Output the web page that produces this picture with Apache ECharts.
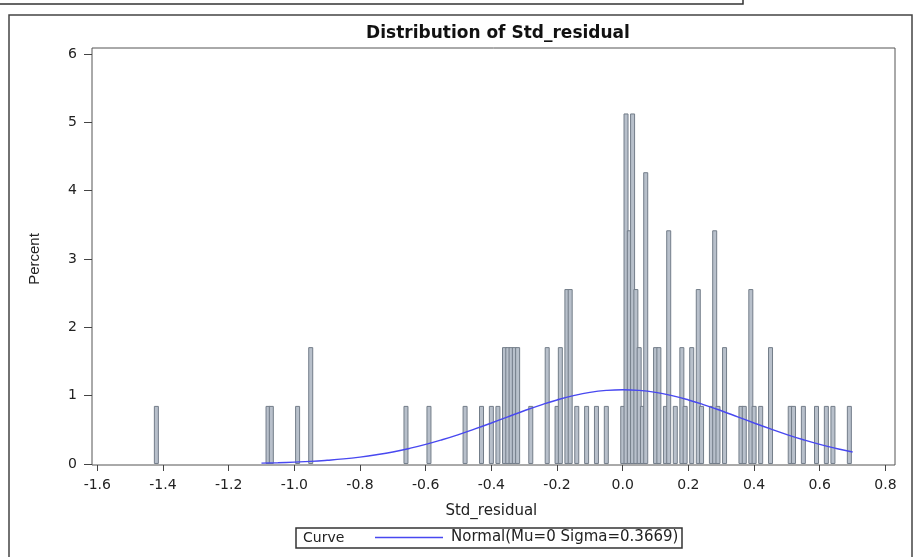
<!DOCTYPE html>
<html>
<head>
<meta charset="utf-8">
<script src="https://cdn.jsdelivr.net/npm/echarts@6/dist/echarts.min.js"></script>
<style>html,body{margin:0;padding:0;background:#fff;}#c{width:922px;height:557px;}</style>
</head>
<body>
<div id="c"></div>
<script>
// Histogram bins (Std_residual midpoints) and percent heights
const binCenters = [-1.42, -1.08, -1.07, -0.99, -0.95,
  -0.66, -0.59, -0.48, -0.43, -0.40, -0.38,
  -0.36, -0.35, -0.34, -0.33, -0.32, -0.28, -0.23, -0.20, -0.19, -0.17, -0.16,
  -0.14, -0.11, -0.08, -0.05, 0.00, 0.01, 0.02, 0.03, 0.04, 0.05, 0.06, 0.07,
  0.10, 0.11, 0.13, 0.14, 0.16, 0.18, 0.19, 0.21, 0.23, 0.24, 0.27, 0.28, 0.29, 0.31,
  0.36, 0.37, 0.39, 0.40, 0.42, 0.45, 0.51, 0.52, 0.55, 0.59, 0.62, 0.64, 0.69];
const binPercents = [0.85, 0.85, 0.85, 0.85, 1.71,
  0.85, 0.85, 0.85, 0.85, 0.85, 0.85,
  1.71, 1.71, 1.71, 1.71, 1.71, 0.85, 1.71, 0.85, 1.71, 2.56, 2.56,
  0.85, 0.85, 0.85, 0.85, 0.85, 5.13, 3.42, 5.13, 2.56, 1.71, 0.85, 4.27,
  1.71, 1.71, 0.85, 3.42, 0.85, 1.71, 0.85, 1.71, 2.56, 0.85, 0.85, 3.42, 0.85, 1.71,
  0.85, 0.85, 2.56, 0.85, 0.85, 1.71, 0.85, 0.85, 0.85, 0.85, 0.85, 0.85, 0.85];

// Normal curve points
const curveX = [-1.10, -1.05, -1.00, -0.95, -0.90, -0.85, -0.80, -0.75, -0.70, -0.65, -0.60,
  -0.55, -0.50, -0.45, -0.40, -0.35, -0.30, -0.25, -0.20, -0.15, -0.10, -0.05, 0.00,
  0.05, 0.10, 0.15, 0.20, 0.25, 0.30, 0.35, 0.40, 0.45, 0.50, 0.55, 0.60, 0.65, 0.70];
const curveY = [0.012, 0.018, 0.027, 0.038, 0.054, 0.074, 0.101, 0.135, 0.176, 0.227, 0.286,
  0.354, 0.430, 0.513, 0.600, 0.690, 0.779, 0.862, 0.937, 1.000, 1.048, 1.077, 1.087,
  1.077, 1.048, 1.000, 0.937, 0.862, 0.779, 0.690, 0.600, 0.513, 0.430, 0.354, 0.286, 0.227, 0.176];

const xTickMin = -1.6, xTickMax = 0.8, xTickStep = 0.2;
const yTickMin = 0, yTickMax = 6, yTickStep = 1;

const titleText = 'Distribution of Std_residual';
const xName = 'Std_residual';
const yName = 'Percent';
const legendLabel = 'Curve';
const curveName = 'Normal(Mu=0 Sigma=0.3669)';

const WIDE = '"DejaVu Sans", Verdana, sans-serif';
const ARIAL = '"Liberation Sans", Arial, sans-serif';
const BLUE = '#4848f0';
const chart = echarts.init(document.getElementById('c'), null, {renderer: 'canvas'});

const barData = binCenters.map((x, i) => [x, binPercents[i]]);
const lineData = curveX.map((x, i) => [x, curveY[i]]);

chart.setOption({
  animation: false,
  backgroundColor: '#ffffff',
  title: {
    text: titleText, left: 493, top: 20, textAlign: 'center',
    textStyle: {fontFamily: WIDE, fontSize: 17, fontWeight: 'bold', color: '#111'}
  },
  grid: [
    {left: 92, right: 27, top: 48, bottom: 92, show: true, borderColor: '#555', borderWidth: 1, backgroundColor: 'transparent'},
    {left: 97.3, right: 36.6, top: 54, bottom: 93}
  ],
  xAxis: [
    {type: 'value', gridIndex: 0, min: -1.616, max: 0.829,
     axisLine: {show: false, onZero: false}, axisTick: {show: false}, axisLabel: {show: false}, splitLine: {show: false}},
    {type: 'value', gridIndex: 1, min: xTickMin, max: xTickMax, interval: xTickStep, offset: 1, position: 'bottom',
     axisLine: {show: false, onZero: false}, axisTick: {show: true, length: 6, lineStyle: {color: '#444'}},
     axisLabel: {margin: 13, fontFamily: WIDE, fontSize: 14, color: '#222', formatter: v => v.toFixed(1)},
     splitLine: {show: false},
     name: xName, nameLocation: 'middle', nameGap: 39,
     nameTextStyle: {fontFamily: WIDE, fontSize: 15, color: '#222'}}
  ],
  yAxis: [
    {type: 'value', gridIndex: 0, min: -0.015, max: 6.088,
     axisLine: {show: false, onZero: false}, axisTick: {show: false}, axisLabel: {show: false}, splitLine: {show: false}},
    {type: 'value', gridIndex: 1, min: yTickMin, max: yTickMax, interval: yTickStep, offset: 5.3, position: 'left',
     axisLine: {show: false, onZero: false}, axisTick: {show: true, length: 8, lineStyle: {color: '#444'}},
     axisLabel: {margin: 15, fontFamily: WIDE, fontSize: 14, color: '#222'},
     splitLine: {show: false},
     name: yName, nameLocation: 'middle', nameGap: 50, nameRotate: 90,
     nameTextStyle: {fontFamily: ARIAL, fontSize: 15, color: '#222'}}
  ],
  legend: {
    data: [{name: curveName, icon: 'rect'}], left: 375, top: 530, padding: 0,
    itemWidth: 68, itemHeight: 1.5, itemGap: 5,
    selectedMode: false,
    textStyle: {fontFamily: WIDE, fontSize: 15, color: '#222', padding: [0, 0, 0, 3]}
  },
  graphic: [
    {type: 'rect', silent: true, shape: {x: -2, y: -10, width: 745, height: 14}, style: {fill: 'none', stroke: '#333', lineWidth: 1.5}},
    {type: 'rect', silent: true, shape: {x: 9, y: 15, width: 903, height: 560}, style: {fill: 'none', stroke: '#444', lineWidth: 1.5}},
    {type: 'rect', silent: true, shape: {x: 296, y: 528, width: 386, height: 20}, style: {fill: 'none', stroke: '#333', lineWidth: 1.5}},
    {type: 'text', silent: true, x: 303, y: 538, style: {text: legendLabel, fontFamily: WIDE, fontSize: 14, fill: '#222', verticalAlign: 'middle'}}
  ],
  series: [
    {type: 'bar', xAxisIndex: 0, yAxisIndex: 0, data: barData, barWidth: 5,
     itemStyle: {color: '#b8c0cb', borderColor: '#737d89', borderWidth: 1}, z: 2},
    {type: 'line', name: curveName, xAxisIndex: 0, yAxisIndex: 0, data: lineData, smooth: true,
     symbol: 'none', lineStyle: {color: BLUE, width: 1.4}, itemStyle: {color: BLUE}, z: 3}
  ]
});
</script>
</body>
</html>
